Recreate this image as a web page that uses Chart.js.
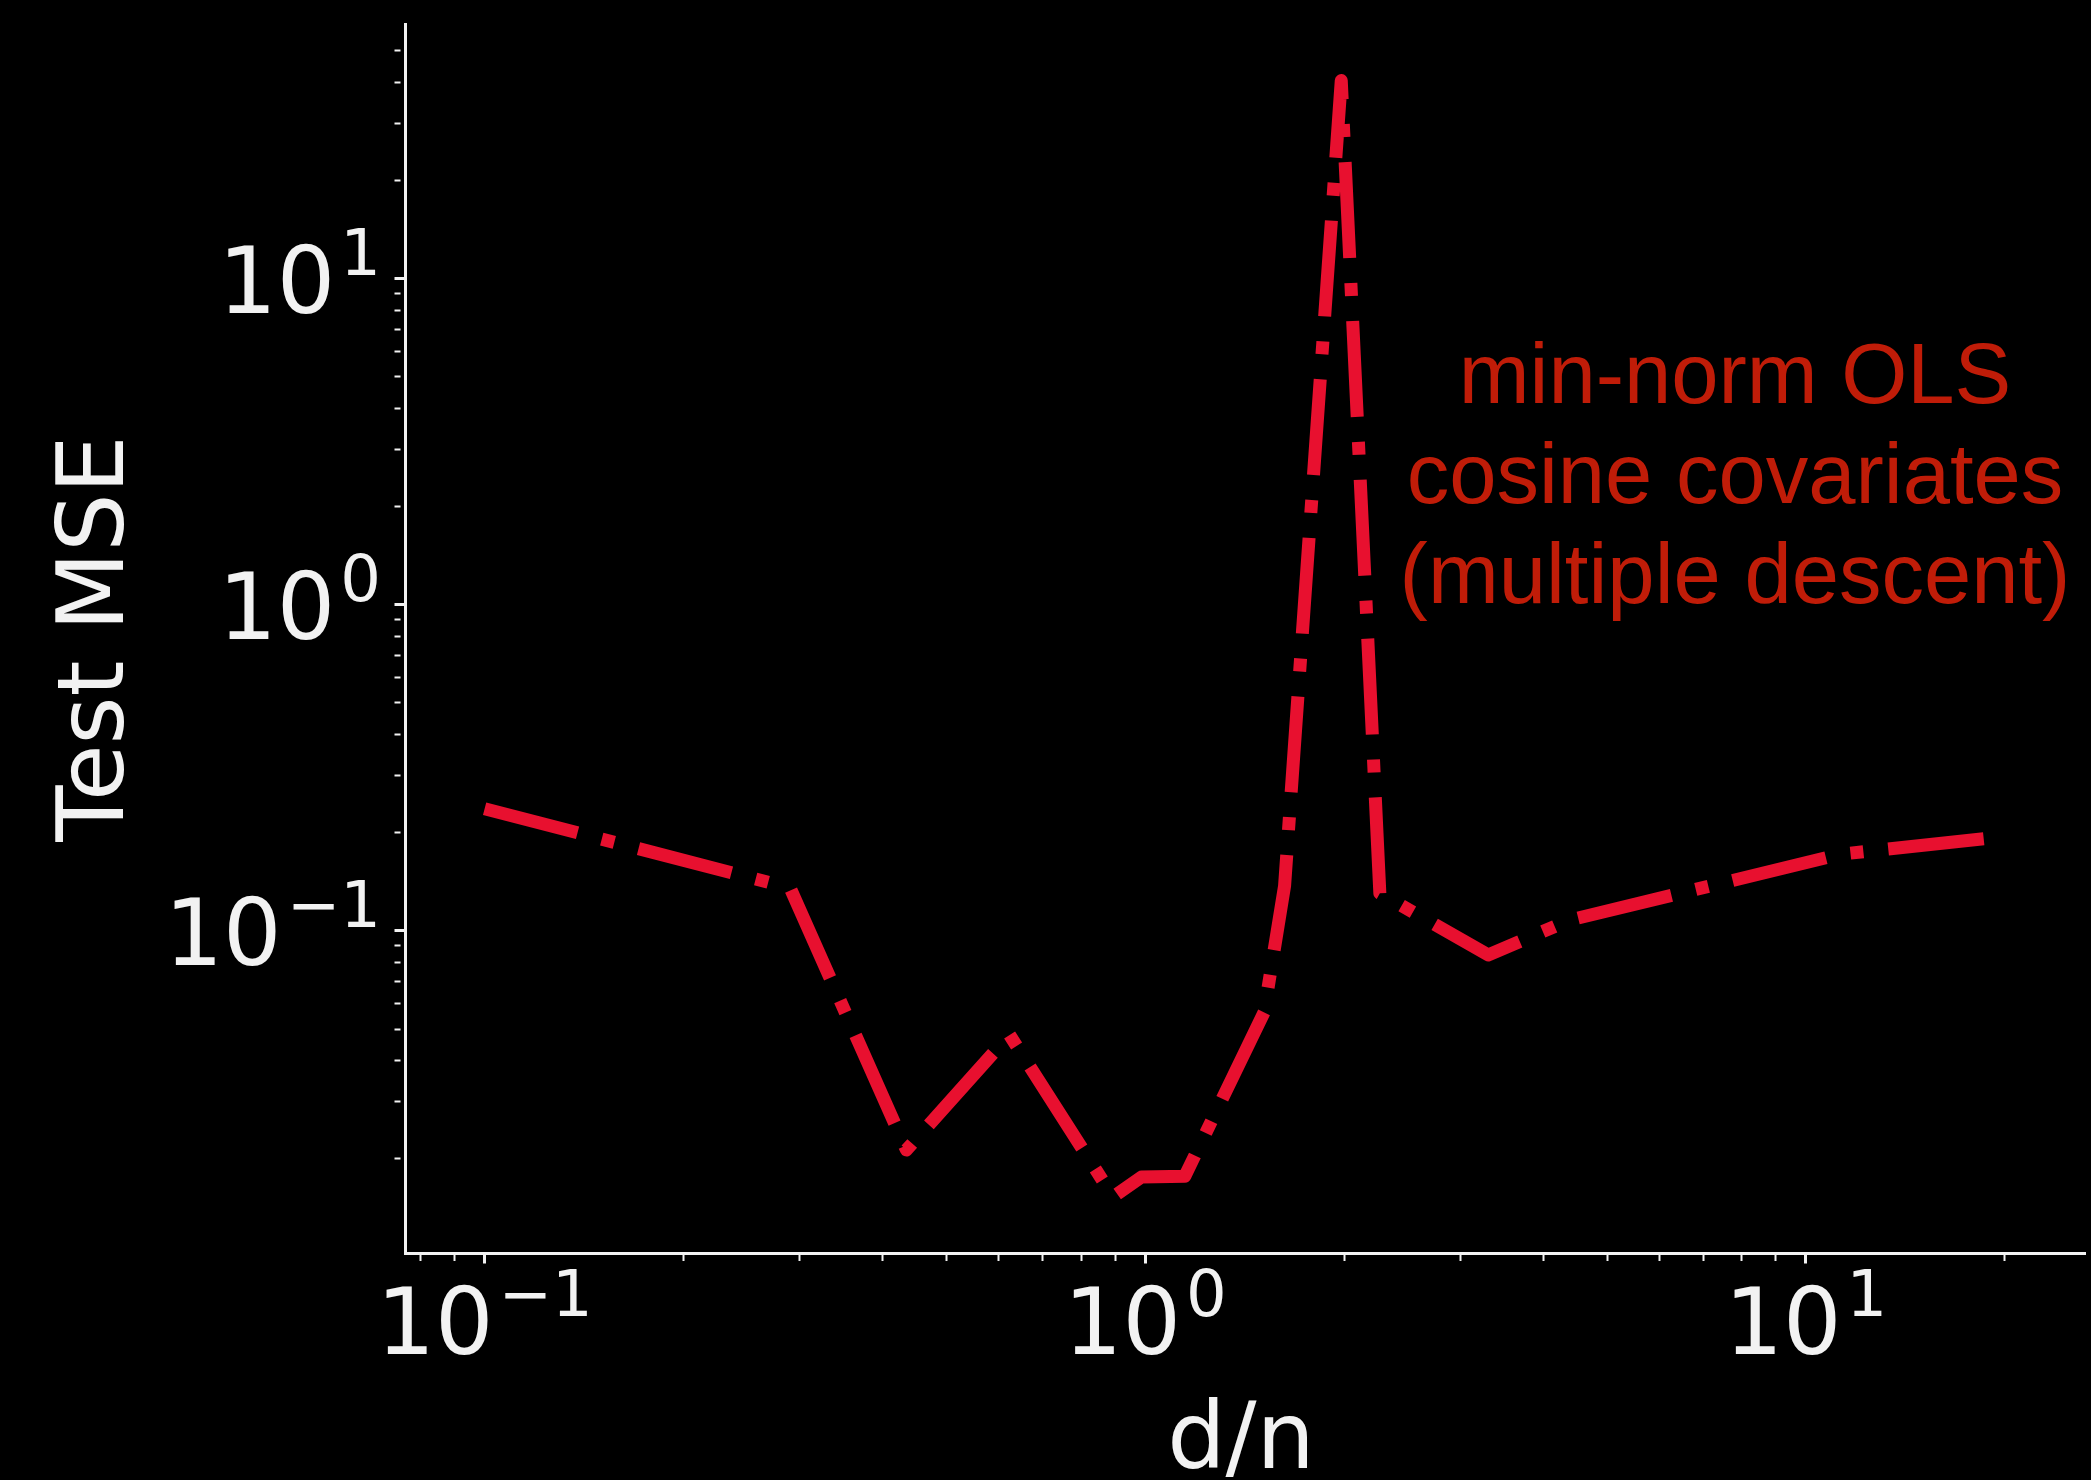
<!DOCTYPE html>
<html>
<head>
<meta charset="utf-8">
<script src="https://cdn.jsdelivr.net/npm/chart.js@4.4.1/dist/chart.umd.min.js"></script>
<style>
    html, body { margin: 0; padding: 0; background: #000000; }
    canvas { display: block; }
</style>
</head>
<body>
<canvas id="mycanvas" width="2091" height="1480"></canvas>
<script>
// d/n values and test MSE
const dn_list = [0.1, 0.29, 0.435, 0.623, 0.894, 0.987, 1.148, 1.513, 1.625, 1.98, 2.265, 3.304, 4.39, 11.3, 19.2];
const mse_list = [0.237, 0.1355, 0.0213, 0.048, 0.0153, 0.0176, 0.0177, 0.0563, 0.1374, 40.5, 0.1305, 0.0844, 0.108, 0.172, 0.193];

// major ticks (labelled 10^k) and minor ticks
const x_ticks = [0.1, 1, 10];
const x_tick_exp = ['\u22121', '0', '1'];
const x_minor = [0.08, 0.09, 0.2, 0.3, 0.4, 0.5, 0.6, 0.7, 0.8, 0.9, 2, 3, 4, 5, 6, 7, 8, 9, 20];
const y_ticks = [0.1, 1, 10];
const y_tick_exp = ['\u22121', '0', '1'];
const y_minor = [0.02, 0.03, 0.04, 0.05, 0.06, 0.07, 0.08, 0.09, 0.2, 0.3, 0.4, 0.5, 0.6, 0.7, 0.8, 0.9, 2, 3, 4, 5, 6, 7, 8, 9, 20, 30, 40, 50];

const note_lines = ['min-norm OLS', 'cosine covariates', '(multiple descent)'];

const fg = '#f2f2f2';

function isMajor(v) {
    const l = Math.log10(v);
    return Math.abs(l - Math.round(l)) < 1e-9;
}

function allTicks(major, minor) {
    return major.concat(minor).sort((a, b) => a - b).map(v => ({ value: v, major: isMajor(v) }));
}

// "10" with a raised exponent, like matplotlib mathtext
function drawPow(ctx, x, base, exp, align) {
    ctx.font = '92px "DejaVu Sans"';
    const w1 = ctx.measureText('10').width;
    ctx.font = '64px "DejaVu Sans"';
    const w2 = ctx.measureText(exp).width;
    const total = w1 + 5 + w2;
    const x0 = align === 'center' ? x - total / 2 : x - total;
    ctx.textAlign = 'left';
    ctx.font = '92px "DejaVu Sans"';
    ctx.fillText('10', x0, base);
    ctx.font = '64px "DejaVu Sans"';
    ctx.fillText(exp, x0 + w1 + 5, base - 38);
}

const textPlugin = {
    id: 'textPlugin',
    afterDraw(chart) {
        const ctx = chart.ctx;
        const xs = chart.scales.x;
        const ys = chart.scales.y;
        const area = chart.chartArea;
        ctx.save();
        ctx.fillStyle = fg;
        ctx.textBaseline = 'alphabetic';

        x_ticks.forEach((v, i) => {
            drawPow(ctx, xs.getPixelForValue(v), area.bottom + 101, x_tick_exp[i], 'center');
        });
        y_ticks.forEach((v, i) => {
            drawPow(ctx, area.left - 24, ys.getPixelForValue(v) + 34, y_tick_exp[i], 'right');
        });

        // axis titles
        ctx.font = '92px "DejaVu Sans"';
        ctx.textAlign = 'center';
        ctx.fillText('d/n', (area.left + area.right) / 2 - 4, 1468);
        ctx.save();
        ctx.translate(123, (area.top + area.bottom) / 2);
        ctx.rotate(-Math.PI / 2);
        ctx.fillText('Test MSE', 0, 0);
        ctx.restore();

        // annotation
        ctx.fillStyle = '#c01c08';
        ctx.font = '85px "Liberation Sans"';
        note_lines.forEach((t, i) => {
            ctx.fillText(t, 1735, 403 + i * 100);
        });
        ctx.restore();
    }
};

const gridOpts = {
    display: true,
    drawOnChartArea: false,
    drawTicks: true,
    tickLength: 10.5,
    tickColor: fg,
    tickWidth: (c) => (c.tick && c.tick.major ? 3 : 2),
    tickBorderDash: (c) => (c.tick && c.tick.major ? [] : [6, 40]),
};

const mycanvas = document.getElementById('mycanvas').getContext('2d');
const chart = new Chart(mycanvas, {
    type: 'line',
    data: {
        datasets: [
            {
                label: 'min-norm OLS',
                data: dn_list.map((x, i) => ({ x: x, y: mse_list[i] })),
                borderColor: '#e8102f',
                borderWidth: 13,
                borderDash: [96, 25, 13, 25],
                borderCapStyle: 'butt',
                borderJoinStyle: 'round',
                pointRadius: 0,
                tension: 0,
                fill: false,
            }
        ]
    },
    options: {
        responsive: false,
        animation: false,
        events: [],
        layout: {
            padding: { top: 24, right: 6, left: 0, bottom: 0 }
        },
        plugins: {
            legend: { display: false },
            tooltip: { enabled: false },
        },
        scales: {
            x: {
                type: 'logarithmic',
                position: 'bottom',
                min: 0.07577,
                max: 26.45,
                afterBuildTicks: (s) => { s.ticks = allTicks(x_ticks, x_minor); },
                afterFit: (s) => { s.height = 227; },
                ticks: { display: false, autoSkip: false },
                border: { display: true, color: fg, width: 3 },
                grid: gridOpts,
            },
            y: {
                type: 'logarithmic',
                position: 'left',
                min: 0.01029,
                max: 60.4,
                afterBuildTicks: (s) => { s.ticks = allTicks(y_ticks, y_minor); },
                afterFit: (s) => { s.width = 405; },
                ticks: { display: false, autoSkip: false },
                border: { display: true, color: fg, width: 3 },
                grid: gridOpts,
            }
        }
    },
    plugins: [textPlugin]
});
</script>
</body>
</html>
